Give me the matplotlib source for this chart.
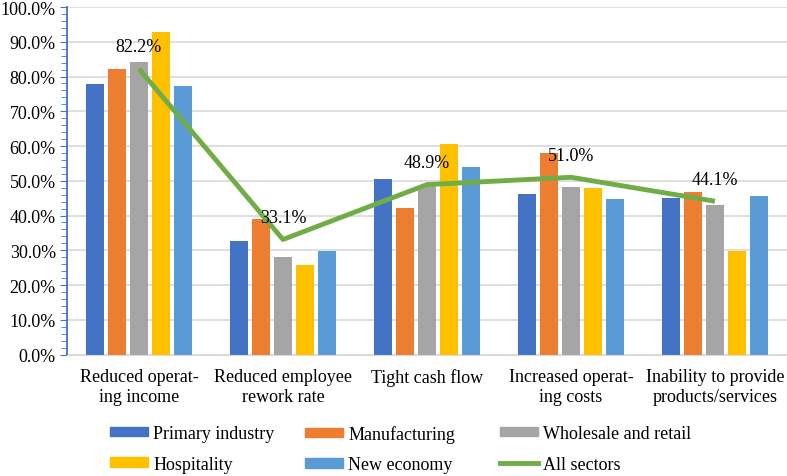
import numpy as np
import matplotlib.pyplot as plt
from matplotlib.ticker import MultipleLocator, PercentFormatter
from matplotlib.patches import Patch
from matplotlib.lines import Line2D

plt.rcParams['font.family'] = ['Liberation Serif', 'DejaVu Serif']

categories = ["Reduced operat-\ning income", "Reduced employee\nrework rate", "Tight cash flow",
              "Increased operat-\ning costs", "Inability to provide\nproducts/services"]
primary = [77.9, 32.6, 50.5, 46.2, 45.0]
manufacturing = [82.3, 39.1, 42.2, 58.1, 46.9]
wholesale = [84.2, 28.2, 48.5, 48.1, 43.1]
hospitality = [92.9, 25.9, 60.6, 47.9, 29.9]
new_economy = [77.4, 29.9, 54.0, 44.8, 45.6]
all_sectors = [82.2, 33.1, 48.9, 51.0, 44.1]

series = [("Primary industry", primary, "#4472C4"),
          ("Manufacturing", manufacturing, "#ED7D31"),
          ("Wholesale and retail", wholesale, "#A5A5A5"),
          ("Hospitality", hospitality, "#FFC000"),
          ("New economy", new_economy, "#5B9BD5")]

fig = plt.figure(figsize=(7.87, 4.77), dpi=100)
ax = fig.add_axes([0.0851, 0.2547, 0.9149, 0.7285])

x = np.arange(len(categories))
pitch = 0.153
for i, (name, vals, col) in enumerate(series):
    ax.bar(x + (i - 2) * pitch, vals, width=0.122, color=col, zorder=2)

ax.plot(x, all_sectors, color="#70AD47", lw=3.5, zorder=3, solid_capstyle='butt')
for xi, v in zip(x, all_sectors):
    ax.annotate(f"{v:.1f}%", (xi, v), xytext=(0, 16), textcoords='offset points',
                ha='center', va='center', fontsize=13)

ax.set_xlim(-0.5, len(categories) - 0.5)
ax.set_ylim(0, 100)
ax.yaxis.set_major_locator(MultipleLocator(10))
ax.yaxis.set_minor_locator(MultipleLocator(2))
ax.yaxis.set_major_formatter(PercentFormatter(decimals=1))
ax.grid(axis='y', color='#D9D9D9', lw=1.2, zorder=0)
for s in ['top', 'right']:
    ax.spines[s].set_visible(False)
ax.spines['bottom'].set_color('#D9D9D9')
ax.spines['left'].set_color('#4472C4')
ax.spines['left'].set_linewidth(1.3)
ax.tick_params(axis='y', which='both', colors='#4472C4', labelcolor='black', labelsize=13)
ax.tick_params(axis='y', which='major', length=5, pad=3)
ax.tick_params(axis='y', which='minor', length=4)
ax.set_xticks(x)
ax.set_xticklabels(categories, fontsize=13, linespacing=1.2)
ax.tick_params(axis='x', length=0, pad=10)

handles = [Patch(color=c, label=n) for n, _, c in series]
handles.append(Line2D([], [], color="#70AD47", lw=3.5, label="All sectors"))
# one legend per column, rows run left to right
col_x = [110, 305, 500]
for k in range(3):
    leg = fig.legend(handles=[handles[k], handles[k + 3]], loc='upper left',
                     bbox_to_anchor=(col_x[k] / 787, 1 - 426 / 477),
                     frameon=False, fontsize=13, handlelength=2.1, handleheight=0.45,
                     handletextpad=0.3, labelspacing=0.75, borderpad=0, borderaxespad=0)

fig.savefig("out.png", dpi=100)
